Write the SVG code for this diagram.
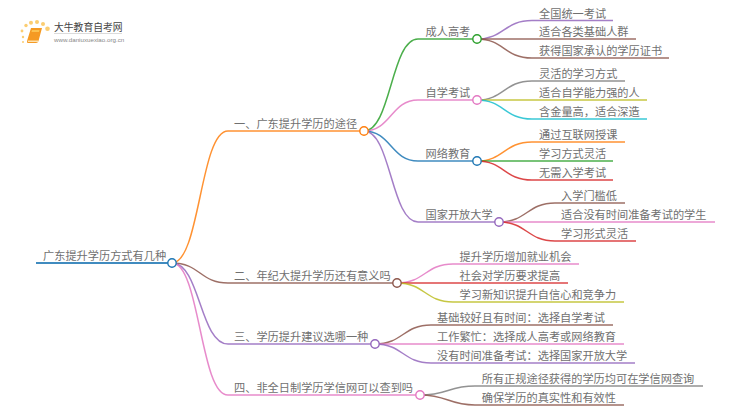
<svg xmlns="http://www.w3.org/2000/svg" width="750" height="410" viewBox="0 0 750 410">
<style>
text{font-family:"Noto Sans CJK SC","Liberation Sans",sans-serif;font-size:11.2px;fill:#707070}
.c path{fill:none;stroke-width:1.5;stroke-opacity:.85}
g[id^=n] circle{fill:#fff;stroke-width:1.4;r:4.2px}
.bl{stroke:#1f77b4}.or{stroke:#ff7f0e}.gr{stroke:#2ca02c}.re{stroke:#d62728}.pu{stroke:#9467bd}.br{stroke:#8c564b}.pi{stroke:#e377c2}.gy{stroke:#7f7f7f}.ol{stroke:#bcbd22}.cy{stroke:#17becf}
#logo text.t{font-size:9.8px;fill:#444}
#logo text.u{font-size:6.2px;fill:#888;font-family:"Liberation Sans",sans-serif}
</style>
<rect width="750" height="410" fill="#fff"/>
<g id="logo">
<g fill="#fbc14e" opacity=".8"><circle cx="23" cy="42" r="1"/><circle cx="23" cy="37" r="1.2"/><circle cx="22" cy="31" r="1.4"/><circle cx="26" cy="25.500" r="1.7"/><circle cx="31" cy="22.700" r="2"/><circle cx="37" cy="22" r="2"/><circle cx="43" cy="24" r="2"/><circle cx="47.500" cy="28.700" r="2.300"/></g>
<path d="M31 28H42L38.500 41Q38 43 36 43H28Q26.500 43 27 41Z" fill="#f59a23"/><path d="M27.500 40.500H38.500L38 42H28Z" fill="#fde2b0"/><path d="M32 30H39.500L39 32H31.500Z" fill="#fbc14e"/>
<text class="t" x="54" y="31">大牛教育自考网</text>
<rect x="54" y="33" width="68" height=".7" fill="#ccc"/>
<text class="u" x="54" y="41.500">www.daniuxuexiao.org.cn</text>
</g>
<g id="connectors" class="c">
<path class="bl" d="M36 263H172" style="stroke-width:2"/>
<path class="or" d="M172 263C200 263 200 131 228 131H364"/>
<path class="br" d="M172 263C200 263 200 283 228 283H397"/>
<path class="pu" d="M172 263C200 263 200 344 228 344H375"/>
<path class="pi" d="M172 263C200 263 200 395 228 395H420"/>
<path class="gr" d="M364 131C391 131 391 39 418 39H477"/>
<path class="pi" d="M364 131C391 131 391 100 418 100H477"/>
<path class="bl" d="M364 131C391 131 391 161 418 161H477"/>
<path class="pu" d="M364 131C391 131 391 222 418 222H499"/>
<path class="pu" d="M477 39C504 39 504 20.500 532 20.500H613"/>
<path class="br" d="M477 39C504 39 504 39 532 39H636"/>
<path class="br" d="M477 39C504 39 504 58 532 58H669"/>
<path class="gy" d="M477 100C504 100 504 81 532 81H625"/>
<path class="ol" d="M477 100C504 100 504 100 532 100H647"/>
<path class="cy" d="M477 100C504 100 504 119 532 119H647"/>
<path class="or" d="M477 161C504 161 504 142 532 142H625"/>
<path class="gr" d="M477 161C504 161 504 161 532 161H613"/>
<path class="re" d="M477 161C504 161 504 180 532 180H613"/>
<path class="br" d="M499 222C527 222 527 203 555 203H625"/>
<path class="pi" d="M499 222C527 222 527 222 555 222H715"/>
<path class="re" d="M499 222C527 222 527 241 555 241H636"/>
<path class="pi" d="M397 283C425 283 425 264 453 264H579"/>
<path class="re" d="M397 283C425 283 425 283 453 283H568"/>
<path class="ol" d="M397 283C425 283 425 302 453 302H624"/>
<path class="br" d="M375 344C403 344 403 325 431 325H613"/>
<path class="pi" d="M375 344C403 344 403 344 431 344H624"/>
<path class="pu" d="M375 344C403 344 403 363 431 363H635"/>
<path class="gy" d="M420 395C448 395 448 386 475 386H703"/>
<path class="br" d="M420 395C448 395 448 405 475 405H624"/>
</g>
<g id="n0"><circle class="bl" cx="172" cy="263"/><text x="43" y="260">广东提升学历方式有几种</text></g>
<g id="n1"><circle class="or" cx="364" cy="131"/><text x="234" y="128">一、广东提升学历的途径</text></g>
<g id="n2"><circle class="br" cx="397" cy="283"/><text x="234" y="280">二、年纪大提升学历还有意义吗</text></g>
<g id="n3"><circle class="pu" cx="375" cy="344"/><text x="234" y="341">三、学历提升建议选哪一种</text></g>
<g id="n4"><circle class="pi" cx="420" cy="395"/><text x="234" y="392">四、非全日制学历学信网可以查到吗</text></g>
<g id="n11"><circle class="gr" cx="477" cy="39"/><text x="425.500" y="36">成人高考</text></g>
<g id="n12"><circle class="pi" cx="477" cy="100"/><text x="425.500" y="97">自学考试</text></g>
<g id="n13"><circle class="bl" cx="477" cy="161"/><text x="425.500" y="158">网络教育</text></g>
<g id="n14"><circle class="pu" cx="499" cy="222"/><text x="425.500" y="219">国家开放大学</text></g>
<g id="l1"><text x="539" y="17.500">全国统一考试</text></g>
<g id="l2"><text x="539" y="36">适合各类基础人群</text></g>
<g id="l3"><text x="539" y="55">获得国家承认的学历证书</text></g>
<g id="l4"><text x="539" y="78">灵活的学习方式</text></g>
<g id="l5"><text x="539" y="97">适合自学能力强的人</text></g>
<g id="l6"><text x="539" y="116">含金量高，适合深造</text></g>
<g id="l7"><text x="539" y="139">通过互联网授课</text></g>
<g id="l8"><text x="539" y="158">学习方式灵活</text></g>
<g id="l9"><text x="539" y="177">无需入学考试</text></g>
<g id="l10"><text x="561" y="200">入学门槛低</text></g>
<g id="l11"><text x="561" y="219">适合没有时间准备考试的学生</text></g>
<g id="l12"><text x="561" y="238">学习形式灵活</text></g>
<g id="l13"><text x="459.500" y="261">提升学历增加就业机会</text></g>
<g id="l14"><text x="459.500" y="280">社会对学历要求提高</text></g>
<g id="l15"><text x="459.500" y="299">学习新知识提升自信心和竞争力</text></g>
<g id="l16"><text x="437" y="322">基础较好且有时间：选择自学考试</text></g>
<g id="l17"><text x="437" y="341">工作繁忙：选择成人高考或网络教育</text></g>
<g id="l18"><text x="437" y="360">没有时间准备考试：选择国家开放大学</text></g>
<g id="l19"><text x="481.700" y="383">所有正规途径获得的学历均可在学信网查询</text></g>
<g id="l20"><text x="481.700" y="402">确保学历的真实性和有效性</text></g>
</svg>
